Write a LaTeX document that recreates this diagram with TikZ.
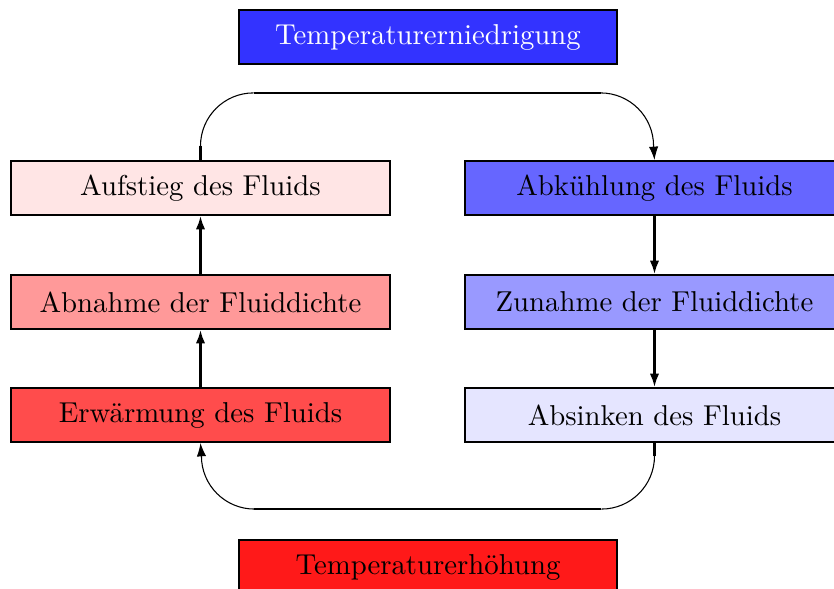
\documentclass[tikz,border=0pt]{standalone}
\usepackage{tikz}
\usepackage{xcolor}
\usetikzlibrary{arrows.meta, positioning}

\begin{document}
\begin{tikzpicture}[x=0.013193cm, y=-0.013193cm, >={Latex[length=5pt,width=3.5pt]},
  stage/.style={draw=black, thick, minimum width=5cm, minimum height=0.712cm, inner sep=0pt,
    font=\fontsize{10.8pt}{13pt}\selectfont},
  curve/.style={thin}]
% page frame, clipped like the reference
\clip (0,0) rectangle (834,589);
\useasboundingbox (0,0) rectangle (834,589);
% top and bottom labels
\node[stage, fill=blue!80, text=white] (cool) at (428,37) {Temperaturerniedrigung};
\node[stage, fill=red!90] (heat) at (428,567) {Temperaturerh\"ohung};
% left column: warming side
\node[stage, fill=red!10] (rise) at (200.5,188) {Aufstieg des Fluids};
\node[stage, fill=red!40] (lower) at (200.5,302) {Abnahme der Fluiddichte};
\node[stage, fill=red!70] (warm) at (200.5,415) {Erw\"armung des Fluids};
% right column: cooling side
\node[stage, fill=blue!60] (chill) at (654.5,188) {Abk\"uhlung des Fluids};
\node[stage, fill=blue!40] (upper) at (654.5,302) {Zunahme der Fluiddichte};
\node[stage, fill=blue!10] (sink) at (654.5,415) {Absinken des Fluids};
% vertical steps
\draw[thick, ->] (warm) -- (lower);
\draw[thick, ->] (lower) -- (rise);
\draw[thick, ->] (chill) -- (upper);
\draw[thick, ->] (upper) -- (sink);
% loop over the top
\draw[thick] (rise.north) -- ++(0,-14) coordinate (tl);
\draw[curve] (tl) arc[start angle=180, end angle=90, radius=0.7cm] coordinate (tm);
\draw[thick] (tm) -- ++(347,0) coordinate (tr);
\draw[curve] (tr) arc[start angle=90, end angle=0, radius=0.7cm] coordinate (tq);
\draw[curve, ->] (tq) -- (chill.north);
% loop under the bottom
\draw[thick] (sink.south) -- ++(0,13) coordinate (br);
\draw[curve] (br) arc[start angle=0, end angle=-90, radius=0.7cm] coordinate (bm);
\draw[thick] (bm) -- ++(-347,0) coordinate (bl);
\draw[curve] (bl) arc[start angle=-90, end angle=-180, radius=0.7cm] coordinate (bq);
\draw[curve, ->] (bq) -- (warm.south);
\end{tikzpicture}
\end{document}
